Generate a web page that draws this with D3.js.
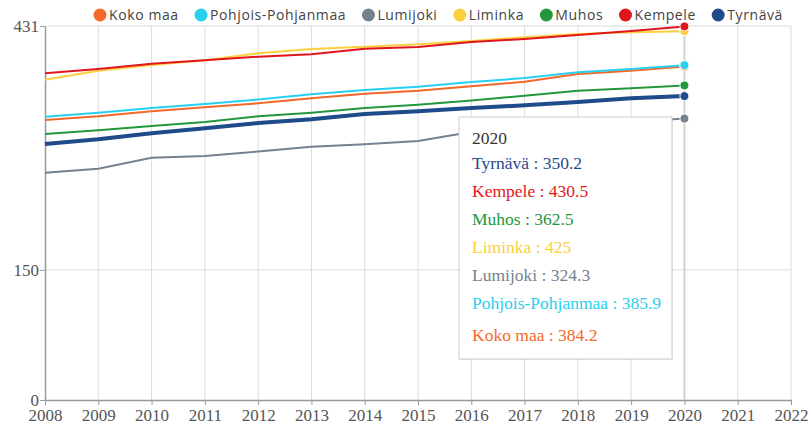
<!DOCTYPE html>
<html>
<head>
<meta charset="utf-8">
<script src="https://cdn.jsdelivr.net/npm/d3@7"></script>
<style>
  body { margin: 0; background: #fff; }
  svg { display: block; }
</style>
</head>
<body>
<svg></svg>
<script>
var years = [2008, 2009, 2010, 2011, 2012, 2013, 2014, 2015, 2016, 2017, 2018, 2019, 2020]

var kokoMaa = [322.7, 326.9, 332.7, 337.3, 341.9, 347.7, 353.0, 356.4, 361.5, 366.8, 375.7, 379.5, 384.2]
var pohjoisPohjanmaa = [326.5, 331.1, 336.5, 341.2, 346.3, 352.3, 357.2, 361.0, 366.5, 371.0, 377.6, 381.4, 385.9]
var lumijoki = [261.9, 266.5, 279.2, 281.2, 286.4, 291.9, 294.7, 298.5, 308.8, 313.5, 316.9, 320.4, 324.3]
var liminka = [369.1, 379.5, 386.1, 391.5, 399.5, 404.5, 407.1, 409.9, 413.7, 418.0, 421.8, 423.7, 425.0]
var muhos = [306.5, 310.8, 315.8, 320.4, 327.0, 331.1, 336.5, 340.3, 345.2, 350.7, 356.4, 359.2, 362.5]
var kempele = [376.5, 381.4, 387.5, 391.5, 395.6, 398.4, 404.8, 406.8, 412.6, 416.0, 420.6, 425.2, 430.5]
var tyrnava = [295.0, 300.4, 307.3, 313.1, 319.2, 323.5, 329.6, 332.7, 336.5, 339.6, 343.4, 347.7, 350.2]

var yTicks = [0, 150, 431]
var tooltipYear = 2020

var series = [
    {name: "Koko maa", values: kokoMaa, color: "#f4692a", width: 2},
    {name: "Pohjois-Pohjanmaa", values: pohjoisPohjanmaa, color: "#28d0f0", width: 2},
    {name: "Lumijoki", values: lumijoki, color: "#768190", width: 2},
    {name: "Liminka", values: liminka, color: "#fbd03c", width: 2},
    {name: "Muhos", values: muhos, color: "#22973c", width: 2},
    {name: "Kempele", values: kempele, color: "#df171d", width: 2},
    {name: "Tyrnävä", values: tyrnava, color: "#1f4b8b", width: 4}
]
// tooltip lists them in this order
var tooltipOrder = ["Tyrnävä", "Kempele", "Muhos", "Liminka", "Lumijoki", "Pohjois-Pohjanmaa", "Koko maa"]

var dimensions = {
    width: 810,
    height: 427,
    margin: {top: 26, right: 19, bottom: 27, left: 45}
}

var svg = d3.select("svg")
    .attr("width", dimensions.width)
    .attr("height", dimensions.height)

var x = d3.scaleLinear()
    .domain([2008, 2022])
    .range([dimensions.margin.left, dimensions.width - dimensions.margin.right])

var y = d3.scaleLinear()
    .domain([0, 431])
    .range([dimensions.height - dimensions.margin.bottom, dimensions.margin.top])

var serif = "'Liberation Serif', 'Times New Roman', serif"

// grid
svg.append("g")
    .selectAll("line")
    .data(d3.range(2009, 2023))
    .join("line")
    .attr("x1", d => x(d)).attr("x2", d => x(d))
    .attr("y1", y(0)).attr("y2", y(431))
    .attr("stroke", "#dcdcdc")
    .attr("stroke-width", 1)

svg.append("g")
    .selectAll("line")
    .data(yTicks.slice(1))
    .join("line")
    .attr("x1", x(2008)).attr("x2", x(2022))
    .attr("y1", d => y(d)).attr("y2", d => y(d))
    .attr("stroke", "#dcdcdc")
    .attr("stroke-width", 1)

// axes
var xAxis = svg.append("g")
    .attr("transform", `translate(0,${y(0)})`)
    .call(d3.axisBottom(x).tickValues(d3.range(2008, 2023)).tickFormat(d3.format("d")).tickSize(5).tickSizeOuter(0))
xAxis.select(".domain").attr("stroke", "#999").attr("stroke-width", 1.5)
xAxis.selectAll(".tick line").attr("stroke", "#999")
xAxis.selectAll("text")
    .attr("dy", 0)
    .attr("y", 21)
    .attr("fill", "#555")
    .style("font-family", serif)
    .style("font-size", "17px")

var yAxis = svg.append("g")
    .attr("transform", `translate(${x(2008)},0)`)
    .call(d3.axisLeft(y).tickValues(yTicks).tickSize(5).tickSizeOuter(0))
yAxis.select(".domain").attr("stroke", "#999").attr("stroke-width", 1.5)
yAxis.selectAll(".tick line").attr("stroke", "#999")
yAxis.selectAll("text")
    .attr("x", -6)
    .attr("fill", "#555")
    .style("font-family", serif)
    .style("font-size", "17px")

// hover cursor at 2020
svg.append("line")
    .attr("x1", x(tooltipYear)).attr("x2", x(tooltipYear))
    .attr("y1", y(0)).attr("y2", y(431))
    .attr("stroke", "#d2d2d2")
    .attr("stroke-width", 2)

var line = d3.line()
    .x((d, i) => x(years[i]))
    .y(d => y(d))

svg.append("g")
    .selectAll("path")
    .data(series)
    .join("path")
    .attr("d", d => line(d.values))
    .attr("fill", "none")
    .attr("stroke", d => d.color)
    .attr("stroke-width", d => d.width)
    .attr("stroke-linejoin", "round")

var idx = years.indexOf(tooltipYear)
svg.append("g")
    .selectAll("circle")
    .data(series)
    .join("circle")
    .attr("cx", x(tooltipYear))
    .attr("cy", d => y(d.values[idx]))
    .attr("r", 4.5)
    .attr("fill", d => d.color)
    .attr("stroke", "#fff")
    .attr("stroke-width", 1)

// legend: spread between x=100 and x=783
var legend = svg.append("g")
var items = series.map(s => {
    var g = legend.append("g")
    g.append("circle").attr("cy", 15).attr("r", 6.5).attr("fill", s.color)
    var t = g.append("text")
        .attr("x", 9).attr("y", 20)
        .attr("fill", "#444")
        .style("font-family", "'Open Sans', sans-serif")
        .style("font-size", "14px")
        .style("letter-spacing", "0.6px")
        .text(s.name)
    return {g: g, w: 9 + t.node().getComputedTextLength()}
})
var gap = (783 - 100 - d3.sum(items, d => d.w)) / (items.length - 1)
var lx = 100
items.forEach(d => {
    d.g.attr("transform", `translate(${lx},0)`)
    lx += d.w + gap
})

// tooltip
var tip = svg.append("g").attr("transform", "translate(459,117)")
tip.append("rect")
    .attr("x", 1).attr("y", 1)
    .attr("width", 213).attr("height", 242)
    .attr("fill", "#000").attr("opacity", 0.06)
tip.append("rect")
    .attr("width", 213).attr("height", 242)
    .attr("fill", "#fff")
    .attr("stroke", "#cccccc")
tip.append("text")
    .attr("x", 13).attr("y", 27)
    .attr("fill", "#333")
    .style("font-family", serif)
    .style("font-size", "17.5px")
    .text(tooltipYear)
tooltipOrder.forEach((name, i) => {
    var s = series.find(d => d.name === name)
    tip.append("text")
        .attr("x", 13).attr("y", 52 + i * 28 + (i === 6 ? 4 : 0))
        .attr("fill", s.color)
        .style("font-family", serif)
        .style("font-size", "17.5px")
        .text(name + " : " + s.values[idx])
})
</script>
</body>
</html>
